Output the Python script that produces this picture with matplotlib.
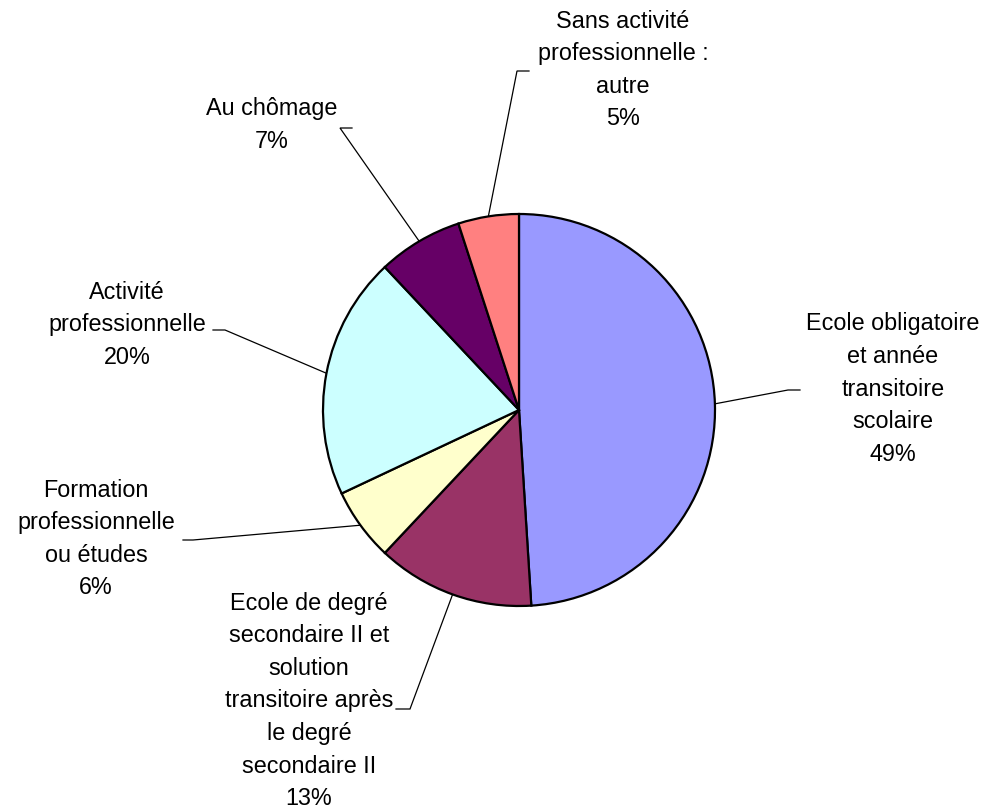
import numpy as np
import matplotlib
matplotlib.use("Agg")
import matplotlib.pyplot as plt

W, H = 986, 811

categories = [
    "Ecole obligatoire\net année\ntransitoire\nscolaire",
    "Ecole de degré\nsecondaire II et\nsolution\ntransitoire après\nle degré\nsecondaire II",
    "Formation\nprofessionnelle\nou études",
    "Activité\nprofessionnelle",
    "Au chômage",
    "Sans activité\nprofessionnelle :\nautre",
]
shares = [49, 13, 6, 20, 7, 5]
colors = ["#9999FF", "#993366", "#FFFFCC", "#CCFFFF", "#660066", "#FF8080"]

# label layout, pixel coords from top-left: text centre, elbow of leader, end of short horizontal
text_xy = [(893, 389), (309, 701), (96, 539), (127, 325), (272, 125), (623, 70)]
elbow_xy = [(788, 390), (410, 709), (193, 540), (225, 330), (340, 128), (517, 71)]
tail_xy = [(800, 390), (396, 709), (183, 540), (213, 330), (352, 128), (529, 71)]

cx, cy, r = 519, H - 410, 196

plt.rcParams['font.family'] = ['Liberation Sans', 'DejaVu Sans']

fig = plt.figure(figsize=(W / 100, H / 100), dpi=100)
ax = fig.add_axes([0, 0, 1, 1])

wedges, _ = ax.pie(shares, colors=colors, startangle=90, counterclock=False,
                   center=(cx, cy), radius=r,
                   wedgeprops=dict(edgecolor="black", linewidth=1.6))

for w, name, pct, (tx, ty), (ex, ey), (hx, hy) in zip(wedges, categories, shares,
                                                     text_xy, elbow_xy, tail_xy):
    mid = np.deg2rad((w.theta1 + w.theta2) / 2)
    sx, sy = cx + r * np.cos(mid), cy + r * np.sin(mid)
    ax.plot([sx, ex, hx], [sy, H - ey, H - hy], color="black", lw=0.9,
            solid_joinstyle="miter", zorder=0)
    ax.text(tx, H - ty, f"{name}\n{pct}%", ha="center", va="center",
            fontsize=16.8, linespacing=1.53, color="black")

ax.set_xlim(0, W)
ax.set_ylim(0, H)
ax.set_aspect("equal")
ax.axis("off")

fig.savefig("out.png", dpi=100, facecolor="white")
